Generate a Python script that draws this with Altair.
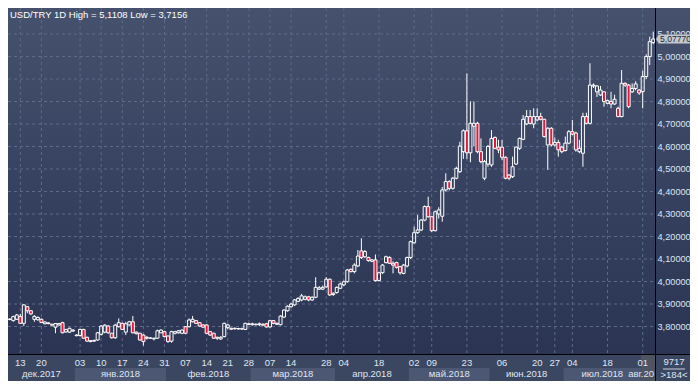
import altair as alt
import pandas as pd

# ---------------- data ----------------
O = [3.831,3.826,3.832,3.844,3.814,3.888,3.870,3.832,3.830,3.832,
     3.812,3.813,3.810,3.797,3.807,3.817,3.776,3.775,3.784,3.762,
     3.760,3.787,3.752,3.733,3.735,3.740,3.765,3.775,3.802,3.770,
     3.750,3.799,3.814,3.775,3.807,3.821,3.775,3.770,3.762,3.748,
     3.748,3.745,3.748,3.772,3.777,3.758,3.735,3.770,3.772,3.770,
     3.799,3.799,3.821,3.826,3.817,3.807,3.807,3.777,3.770,3.752,
     3.745,3.755,3.795,3.792,3.790,3.789,3.790,3.787,3.812,3.808,
     3.810,3.808,3.810,3.812,3.798,3.826,3.814,3.808,3.842,3.870,
     3.888,3.896,3.912,3.918,3.921,3.932,3.918,3.930,3.966,3.966,
     3.976,4.010,3.942,3.951,3.970,3.985,3.999,4.054,4.044,4.069,
     4.136,4.110,4.107,4.090,4.096,4.004,4.039,4.084,4.107,4.081,
     4.084,4.066,4.036,4.069,4.107,4.172,4.217,4.229,4.273,4.333,
     4.288,4.226,4.300,4.290,4.407,4.444,4.414,4.459,4.488,4.577,
     4.670,4.572,4.690,4.703,4.577,4.459,4.522,4.518,4.640,4.597,
     4.597,4.552,4.473,4.466,4.522,4.592,4.632,4.700,4.733,4.700,
     4.718,4.733,4.721,4.607,4.681,4.607,4.618,4.597,4.582,4.615,
     4.666,4.660,4.577,4.570,4.733,4.703,4.869,4.843,4.829,4.843,
     4.792,4.800,4.789,4.770,4.733,4.881,4.873,4.843,4.858,4.851,
     4.844,4.911,5.000,5.062]
H = [3.836,3.848,3.856,3.856,3.900,3.891,3.873,3.851,3.845,3.836,
     3.823,3.818,3.812,3.815,3.815,3.821,3.790,3.795,3.788,3.765,
     3.790,3.790,3.755,3.740,3.742,3.776,3.806,3.810,3.806,3.772,
     3.812,3.836,3.817,3.821,3.825,3.847,3.778,3.772,3.765,3.758,
     3.752,3.750,3.786,3.788,3.781,3.760,3.781,3.781,3.784,3.787,
     3.802,3.836,3.847,3.829,3.820,3.810,3.810,3.780,3.772,3.755,
     3.757,3.817,3.812,3.795,3.796,3.794,3.795,3.817,3.816,3.817,
     3.814,3.818,3.814,3.816,3.830,3.829,3.818,3.850,3.877,3.894,
     3.905,3.922,3.930,3.945,3.938,3.936,3.934,4.019,3.980,3.982,
     4.020,4.013,3.952,3.978,3.995,4.004,4.056,4.058,4.081,4.140,
     4.192,4.140,4.110,4.100,4.120,4.044,4.078,4.115,4.112,4.090,
     4.088,4.069,4.078,4.110,4.182,4.244,4.296,4.278,4.338,4.377,
     4.292,4.316,4.330,4.420,4.481,4.450,4.465,4.510,4.621,4.676,
     4.925,4.800,4.800,4.710,4.636,4.540,4.607,4.673,4.645,4.630,
     4.630,4.556,4.478,4.555,4.600,4.640,4.740,4.762,4.762,4.770,
     4.770,4.750,4.723,4.686,4.686,4.640,4.630,4.603,4.644,4.673,
     4.718,4.666,4.630,4.750,4.750,4.970,4.880,4.873,4.869,4.845,
     4.808,4.843,4.830,4.777,4.940,4.885,4.878,4.881,4.890,4.855,
     4.937,5.010,5.088,5.1108]
L = [3.828,3.822,3.829,3.812,3.802,3.859,3.851,3.821,3.826,3.815,
     3.810,3.810,3.804,3.770,3.804,3.770,3.772,3.772,3.776,3.757,
     3.755,3.746,3.732,3.730,3.733,3.737,3.760,3.770,3.768,3.746,
     3.745,3.796,3.784,3.762,3.804,3.770,3.765,3.737,3.7156,3.742,
     3.745,3.738,3.745,3.770,3.752,3.728,3.728,3.765,3.768,3.766,
     3.767,3.796,3.818,3.811,3.799,3.794,3.767,3.758,3.745,3.740,
     3.740,3.752,3.787,3.784,3.786,3.786,3.786,3.784,3.806,3.804,
     3.805,3.802,3.803,3.795,3.795,3.810,3.806,3.805,3.838,3.866,
     3.884,3.892,3.908,3.912,3.916,3.912,3.914,3.926,3.962,3.962,
     3.972,3.936,3.936,3.946,3.966,3.980,3.995,4.040,4.036,4.064,
     4.100,4.105,4.088,4.086,4.000,4.000,4.034,4.080,4.078,4.036,
     4.058,4.030,4.032,4.063,4.100,4.168,4.212,4.224,4.268,4.284,
     4.220,4.222,4.280,4.266,4.400,4.405,4.408,4.454,4.482,4.545,
     4.545,4.530,4.600,4.570,4.525,4.450,4.510,4.510,4.588,4.570,
     4.540,4.454,4.450,4.460,4.518,4.585,4.628,4.695,4.698,4.681,
     4.712,4.716,4.640,4.496,4.600,4.600,4.555,4.570,4.578,4.610,
     4.650,4.577,4.570,4.510,4.698,4.698,4.860,4.820,4.825,4.777,
     4.788,4.770,4.785,4.730,4.730,4.865,4.770,4.838,4.850,4.830,
     4.770,4.900,4.962,5.055]
C = [3.833,3.844,3.851,3.814,3.896,3.870,3.856,3.845,3.840,3.818,
     3.820,3.816,3.806,3.813,3.813,3.772,3.786,3.792,3.780,3.759,
     3.787,3.748,3.735,3.737,3.738,3.772,3.802,3.806,3.772,3.750,
     3.806,3.817,3.787,3.812,3.821,3.772,3.768,3.740,3.733,3.752,
     3.749,3.748,3.781,3.784,3.755,3.733,3.777,3.777,3.781,3.784,
     3.770,3.829,3.832,3.814,3.802,3.797,3.770,3.762,3.748,3.748,
     3.752,3.814,3.807,3.788,3.792,3.791,3.789,3.814,3.809,3.812,
     3.808,3.812,3.806,3.798,3.826,3.814,3.810,3.846,3.873,3.890,
     3.900,3.918,3.925,3.936,3.932,3.918,3.930,3.974,3.972,3.974,
     4.010,3.940,3.948,3.974,3.989,3.999,4.051,4.044,4.073,4.113,
     4.107,4.133,4.093,4.096,4.004,4.039,4.073,4.110,4.081,4.073,
     4.063,4.039,4.073,4.107,4.177,4.217,4.229,4.273,4.333,4.288,
     4.226,4.310,4.318,4.407,4.444,4.414,4.459,4.503,4.602,4.670,
     4.572,4.703,4.703,4.577,4.533,4.533,4.600,4.636,4.592,4.585,
     4.552,4.459,4.459,4.510,4.597,4.636,4.721,4.733,4.703,4.733,
     4.733,4.721,4.644,4.681,4.607,4.618,4.585,4.577,4.615,4.666,
     4.655,4.585,4.592,4.733,4.703,4.873,4.873,4.869,4.851,4.800,
     4.804,4.789,4.810,4.733,4.881,4.873,4.777,4.858,4.878,4.838,
     4.911,5.000,5.066,5.0777]

tick_idx = [3, 9, 20, 26, 32, 38, 44, 50, 56, 62, 68, 74, 80, 90, 95,
            105, 115, 120, 130, 140, 150, 155, 160, 170, 180]
tick_lbl = ["13", "20", "03", "10", "17", "24", "31", "07", "14", "21", "28",
            "07", "14", "28", "04", "18", "02", "09", "23", "06", "20", "27",
            "04", "18", "01"]

month_start = [-0.5, 18.5, 44.5, 68.5, 92.5, 113.5, 136.5, 157.5]
month_end = [18.5, 44.5, 68.5, 92.5, 113.5, 136.5, 157.5, 179.5]
month_lbl = ["дек.2017", "янв.2018", "фев.2018", "мар.2018", "апр.2018",
             "май.2018", "июн.2018", "июл.2018"]
month_shade = ["d", "l", "d", "l", "d", "l", "d", "l"]
last_month_start = [179.5]
last_month_end = [183.5]
last_month_lbl = ["авг.20"]   # clipped by the price scale in the original

price_ticks = [3.8, 3.9, 4.0, 4.1, 4.2, 4.3, 4.4, 4.5, 4.6, 4.7, 4.8, 4.9, 5.0, 5.1]
price_lbls = ["3,80000", "3,90000", "4,00000", "4,10000", "4,20000", "4,30000",
              "4,40000", "4,50000", "4,60000", "4,70000", "4,80000", "4,90000",
              "5,00000", "5,10000"]
last_price = [5.0777]
last_lbl = ["5,07770"]
title_txt = "USD/TRY 1D High = 5,1108 Low = 3,7156"
counter_top = "9717"
counter_bot = ">184<"

# ---------------- layout ----------------
W, HT = 647, 346          # plot area
FW = 682                  # including right price scale (page edge)
AXB = 373                 # bottom of time axis (page edge)
FONT = "Liberation Sans"
TXT = "#dfe6f3"

xs = alt.Scale(domain=[-0.5, 183.5], nice=False, zero=False, padding=0)
ys = alt.Scale(domain=[3.6778, 5.2156], nice=False, zero=False, padding=0)

df = pd.DataFrame({"i": list(range(len(O))), "o": O, "h": H, "l": L, "c": C})
one = alt.Data(values=[{"k": 0}])

grad = alt.LinearGradient(
    gradient="linear",
    stops=[alt.GradientStop(color="#46526d", offset=0),
           alt.GradientStop(color="#36425f", offset=0.5),
           alt.GradientStop(color="#2b3553", offset=1)],
    x1=0, x2=0, y1=0, y2=1)

panel = alt.Chart(one).mark_rect(fill=grad).encode(
    x=alt.value(0), x2=alt.value(FW), y=alt.value(0), y2=alt.value(HT))

pdf = pd.DataFrame({"v": price_ticks, "t": price_lbls})
hgrid = alt.Chart(pdf).mark_rule(color="#5d6a88", strokeDash=[3, 3], strokeWidth=1).encode(
    x=alt.value(0), x2=alt.value(W), y=alt.Y("v:Q", scale=ys, axis=None))

tdf = pd.DataFrame({"i": tick_idx, "t": tick_lbl})
vgrid = alt.Chart(tdf).mark_rule(color="#5d6a88", strokeDash=[3, 3], strokeWidth=1).encode(
    x=alt.X("i:Q", scale=xs, axis=None), y=alt.value(0), y2=alt.value(HT))

base = alt.Chart(df).transform_calculate(
    top="max(datum.o, datum.c)", bot="min(datum.o, datum.c)")
X = alt.X("i:Q", scale=xs, axis=None)
wick_up = base.mark_rule(color="white", strokeWidth=1).encode(
    x=X, y=alt.Y("h:Q", scale=ys, axis=None), y2="top:Q")
wick_dn = base.mark_rule(color="white", strokeWidth=1).encode(
    x=X, y=alt.Y("bot:Q", scale=ys, axis=None), y2="l:Q")
body = base.mark_bar(size=3, stroke="white", strokeWidth=1, orient="vertical").encode(
    x=X, y=alt.Y("o:Q", scale=ys, axis=None), y2="c:Q",
    fill=alt.condition("datum.c < datum.o", alt.value("#e3173e"), alt.value("transparent")))

title = alt.Chart(one).mark_text(text=title_txt, align="left", baseline="alphabetic",
                                 font=FONT, fontSize=9.5, color="white").encode(
    x=alt.value(2), y=alt.value(10))

axbg = alt.Chart(one).mark_rect(color="#3b4661").encode(
    x=alt.value(0), x2=alt.value(FW), y=alt.value(HT), y2=alt.value(AXB))

mdf = pd.DataFrame({"s": month_start, "e": month_end, "t": month_lbl, "shade": month_shade})
bands = alt.Chart(mdf).mark_rect().encode(
    x=alt.X("s:Q", scale=xs, axis=None), x2="e:Q",
    y=alt.value(360), y2=alt.value(AXB),
    color=alt.Color("shade:N", scale=alt.Scale(domain=["d", "l"], range=["#3b4661", "#4c5774"]),
                    legend=None))
mlabels = alt.Chart(mdf).transform_calculate(mid="(datum.s + datum.e) / 2").mark_text(
    font=FONT, fontSize=9.5, color=TXT, baseline="middle", align="center").encode(
    x=alt.X("mid:Q", scale=xs, axis=None), y=alt.value(366), text="t:N")

ldf = pd.DataFrame({"s": last_month_start, "e": last_month_end, "t": last_month_lbl})
lband = alt.Chart(ldf).mark_rect(color="#4f5462").encode(
    x=alt.X("s:Q", scale=xs, axis=None), x2="e:Q", y=alt.value(347), y2=alt.value(AXB))
llabel = alt.Chart(ldf).mark_text(font=FONT, fontSize=9.5, color=TXT, baseline="middle",
                                  align="right", dx=-1).encode(
    x=alt.X("e:Q", scale=xs, axis=None), y=alt.value(366), text="t:N")

dlabels = alt.Chart(tdf).mark_text(font=FONT, fontSize=9.5, color=TXT, baseline="middle",
                                   align="center").encode(
    x=alt.X("i:Q", scale=xs, axis=None), y=alt.value(354.5), text="t:N")

rbox = alt.Chart(one).mark_rect(color="#3b4661").encode(
    x=alt.value(W), x2=alt.value(FW), y=alt.value(HT), y2=alt.value(AXB))
ctop = alt.Chart(one).mark_text(text=counter_top, font=FONT, fontSize=9.5, color=TXT,
                                baseline="middle", align="center").encode(
    x=alt.value(666), y=alt.value(353.5))
cline = alt.Chart(one).mark_rule(color="#c8cfdc", strokeWidth=1).encode(
    x=alt.value(655), x2=alt.value(677), y=alt.value(361))
cbot = alt.Chart(one).mark_text(text=counter_bot, font=FONT, fontSize=9.5, color=TXT,
                                baseline="middle", align="center").encode(
    x=alt.value(666), y=alt.value(367))

hline = alt.Chart(one).mark_rule(color="black", strokeWidth=1).encode(
    x=alt.value(0), x2=alt.value(FW), y=alt.value(346.5))
vline = alt.Chart(one).mark_rule(color="black", strokeWidth=1).encode(
    x=alt.value(647.5), y=alt.value(0), y2=alt.value(AXB))

plabels = alt.Chart(pdf).mark_text(font=FONT, fontSize=9.2, color=TXT, baseline="middle",
                                   align="left").encode(
    x=alt.value(649.5), y=alt.Y("v:Q", scale=ys, axis=None), text="t:N")

tagdf = pd.DataFrame({"v": last_price, "t": last_lbl})
tag = alt.Chart(tagdf).mark_point(
    shape="M -1 0 L -0.84 -0.27 L 1 -0.27 L 1 0.27 L -0.84 0.27 Z",
    filled=True, fill="#c4c8cf", stroke="#8c919c", strokeWidth=0.5, size=1156, opacity=1).encode(
    x=alt.value(665), y=alt.Y("v:Q", scale=ys, axis=None))
tagtxt = alt.Chart(tagdf).mark_text(font=FONT, fontSize=8.6, color="#222836", baseline="middle",
                                    align="left").encode(
    x=alt.value(652), y=alt.Y("v:Q", scale=ys, axis=None), text="t:N")

chart = alt.layer(
    panel, hgrid, vgrid, wick_up, wick_dn, body, title,
    axbg, bands, lband, mlabels, llabel, dlabels,
    rbox, ctop, cline, cbot, hline, vline, plabels, tag, tagtxt
).properties(
    width=W, height=HT, background="#3b4661",
    padding={"left": 0, "top": 0, "right": FW - W, "bottom": AXB - HT},
    autosize=alt.AutoSizeParams(type="none")
).configure_view(strokeWidth=0)

chart.save("out.html", embed_options={"renderer": "svg", "actions": False})
